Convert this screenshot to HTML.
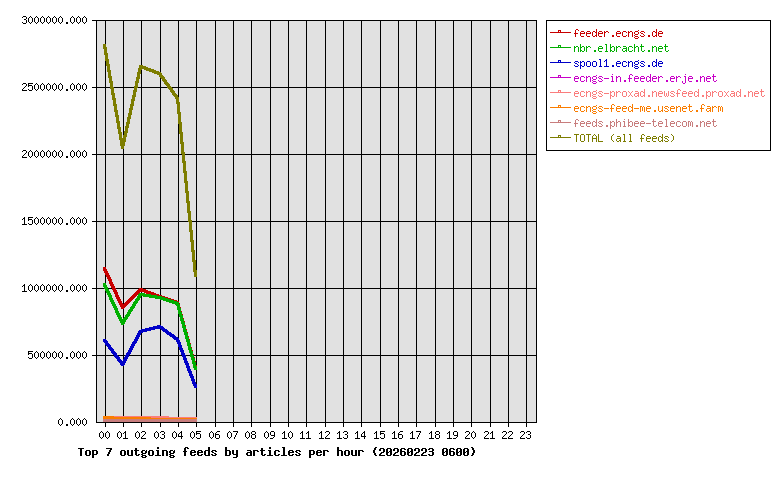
<!DOCTYPE html>
<html lang="en">
<head>
<meta charset="utf-8">
<title>Top 7 outgoing feeds by articles per hour (20260223 0600)</title>
<style>
html,body{margin:0;padding:0;background:#fff;}
body{width:780px;height:480px;overflow:hidden;position:relative;font-family:"Liberation Mono",monospace;}
#chart{position:absolute;left:0;top:0;width:780px;height:480px;background:#fff;overflow:hidden;}
#chart div,#chart span,#chart svg{position:absolute;display:block;margin:0;padding:0;}
.plot{left:96px;top:20px;width:441px;height:403px;background:#e1e1e1;}
.gv{top:0;width:1px;height:403px;background:#000;}
.gh{left:0;width:441px;height:1px;background:#000;}
.series{left:0;top:0;}
.frame{left:96px;top:20px;width:441px;height:403px;box-sizing:border-box;border:1px solid #000;}
.yt{left:92px;width:5px;height:1px;background:#000;}
.xt{top:422px;width:1px;height:5px;background:#000;}
.t{height:13px;line-height:13px;white-space:pre;overflow:hidden;}
.t svg{left:0;top:0;}
.t span{left:0;top:0;color:transparent;font-family:"Liberation Mono",monospace;letter-spacing:0;}
.xl{font-weight:bold;}
.legend{left:546px;top:20px;width:225px;height:131px;box-sizing:border-box;border:1px solid #000;background:#fff;}
.item{left:0;width:223px;height:13px;}
.ln{left:3px;top:6px;width:21px;height:1px;}
.pt{left:11px;top:4px;width:3px;height:3px;box-sizing:border-box;border:1px solid;}
.item .t{left:27px;top:0;}
</style>
</head>
<body>
<div id="chart">
<div class="yaxis">
<div class="t yl" style="left:22px;top:13px;width:66px;font-size:10px;"><svg width="66" height="13" viewBox="0 0 66 13" shape-rendering="crispEdges"><path fill="#000" d="M1 3h3v1h-3zM8 3h1v1h-1zM14 3h1v1h-1zM20 3h1v1h-1zM26 3h1v1h-1zM32 3h1v1h-1zM38 3h1v1h-1zM50 3h1v1h-1zM56 3h1v1h-1zM62 3h1v1h-1zM0 4h1v1h-1zM4 4h1v2h-1zM7 4h1v1h-1zM9 4h1v1h-1zM13 4h1v1h-1zM15 4h1v1h-1zM19 4h1v1h-1zM21 4h1v1h-1zM25 4h1v1h-1zM27 4h1v1h-1zM31 4h1v1h-1zM33 4h1v1h-1zM37 4h1v1h-1zM39 4h1v1h-1zM49 4h1v1h-1zM51 4h1v1h-1zM55 4h1v1h-1zM57 4h1v1h-1zM61 4h1v1h-1zM63 4h1v1h-1zM6 5h1v4h-1zM10 5h1v4h-1zM12 5h1v4h-1zM16 5h1v4h-1zM18 5h1v4h-1zM22 5h1v4h-1zM24 5h1v4h-1zM28 5h1v4h-1zM30 5h1v4h-1zM34 5h1v4h-1zM36 5h1v4h-1zM40 5h1v4h-1zM48 5h1v4h-1zM52 5h1v4h-1zM54 5h1v4h-1zM58 5h1v4h-1zM60 5h1v4h-1zM64 5h1v4h-1zM2 6h2v1h-2zM4 7h1v3h-1zM0 9h1v1h-1zM7 9h1v1h-1zM9 9h1v1h-1zM13 9h1v1h-1zM15 9h1v1h-1zM19 9h1v1h-1zM21 9h1v1h-1zM25 9h1v1h-1zM27 9h1v1h-1zM31 9h1v1h-1zM33 9h1v1h-1zM37 9h1v1h-1zM39 9h1v1h-1zM44 9h2v2h-2zM49 9h1v1h-1zM51 9h1v1h-1zM55 9h1v1h-1zM57 9h1v1h-1zM61 9h1v1h-1zM63 9h1v1h-1zM1 10h3v1h-3zM8 10h1v1h-1zM14 10h1v1h-1zM20 10h1v1h-1zM26 10h1v1h-1zM32 10h1v1h-1zM38 10h1v1h-1zM50 10h1v1h-1zM56 10h1v1h-1zM62 10h1v1h-1z"/></svg><span>3000000.000</span></div>
<div class="yt" style="top:20px"></div>
<div class="t yl" style="left:22px;top:80px;width:66px;font-size:10px;"><svg width="66" height="13" viewBox="0 0 66 13" shape-rendering="crispEdges"><path fill="#000" d="M1 3h3v1h-3zM6 3h5v1h-5zM14 3h1v1h-1zM20 3h1v1h-1zM26 3h1v1h-1zM32 3h1v1h-1zM38 3h1v1h-1zM50 3h1v1h-1zM56 3h1v1h-1zM62 3h1v1h-1zM0 4h1v1h-1zM4 4h1v2h-1zM6 4h1v1h-1zM13 4h1v1h-1zM15 4h1v1h-1zM19 4h1v1h-1zM21 4h1v1h-1zM25 4h1v1h-1zM27 4h1v1h-1zM31 4h1v1h-1zM33 4h1v1h-1zM37 4h1v1h-1zM39 4h1v1h-1zM49 4h1v1h-1zM51 4h1v1h-1zM55 4h1v1h-1zM57 4h1v1h-1zM61 4h1v1h-1zM63 4h1v1h-1zM6 5h4v1h-4zM12 5h1v4h-1zM16 5h1v4h-1zM18 5h1v4h-1zM22 5h1v4h-1zM24 5h1v4h-1zM28 5h1v4h-1zM30 5h1v4h-1zM34 5h1v4h-1zM36 5h1v4h-1zM40 5h1v4h-1zM48 5h1v4h-1zM52 5h1v4h-1zM54 5h1v4h-1zM58 5h1v4h-1zM60 5h1v4h-1zM64 5h1v4h-1zM3 6h1v1h-1zM6 6h1v1h-1zM10 6h1v4h-1zM2 7h1v1h-1zM1 8h1v1h-1zM0 9h1v1h-1zM6 9h1v1h-1zM13 9h1v1h-1zM15 9h1v1h-1zM19 9h1v1h-1zM21 9h1v1h-1zM25 9h1v1h-1zM27 9h1v1h-1zM31 9h1v1h-1zM33 9h1v1h-1zM37 9h1v1h-1zM39 9h1v1h-1zM44 9h2v2h-2zM49 9h1v1h-1zM51 9h1v1h-1zM55 9h1v1h-1zM57 9h1v1h-1zM61 9h1v1h-1zM63 9h1v1h-1zM0 10h5v1h-5zM7 10h3v1h-3zM14 10h1v1h-1zM20 10h1v1h-1zM26 10h1v1h-1zM32 10h1v1h-1zM38 10h1v1h-1zM50 10h1v1h-1zM56 10h1v1h-1zM62 10h1v1h-1z"/></svg><span>2500000.000</span></div>
<div class="yt" style="top:87px"></div>
<div class="t yl" style="left:22px;top:147px;width:66px;font-size:10px;"><svg width="66" height="13" viewBox="0 0 66 13" shape-rendering="crispEdges"><path fill="#000" d="M1 3h3v1h-3zM8 3h1v1h-1zM14 3h1v1h-1zM20 3h1v1h-1zM26 3h1v1h-1zM32 3h1v1h-1zM38 3h1v1h-1zM50 3h1v1h-1zM56 3h1v1h-1zM62 3h1v1h-1zM0 4h1v1h-1zM4 4h1v2h-1zM7 4h1v1h-1zM9 4h1v1h-1zM13 4h1v1h-1zM15 4h1v1h-1zM19 4h1v1h-1zM21 4h1v1h-1zM25 4h1v1h-1zM27 4h1v1h-1zM31 4h1v1h-1zM33 4h1v1h-1zM37 4h1v1h-1zM39 4h1v1h-1zM49 4h1v1h-1zM51 4h1v1h-1zM55 4h1v1h-1zM57 4h1v1h-1zM61 4h1v1h-1zM63 4h1v1h-1zM6 5h1v4h-1zM10 5h1v4h-1zM12 5h1v4h-1zM16 5h1v4h-1zM18 5h1v4h-1zM22 5h1v4h-1zM24 5h1v4h-1zM28 5h1v4h-1zM30 5h1v4h-1zM34 5h1v4h-1zM36 5h1v4h-1zM40 5h1v4h-1zM48 5h1v4h-1zM52 5h1v4h-1zM54 5h1v4h-1zM58 5h1v4h-1zM60 5h1v4h-1zM64 5h1v4h-1zM3 6h1v1h-1zM2 7h1v1h-1zM1 8h1v1h-1zM0 9h1v1h-1zM7 9h1v1h-1zM9 9h1v1h-1zM13 9h1v1h-1zM15 9h1v1h-1zM19 9h1v1h-1zM21 9h1v1h-1zM25 9h1v1h-1zM27 9h1v1h-1zM31 9h1v1h-1zM33 9h1v1h-1zM37 9h1v1h-1zM39 9h1v1h-1zM44 9h2v2h-2zM49 9h1v1h-1zM51 9h1v1h-1zM55 9h1v1h-1zM57 9h1v1h-1zM61 9h1v1h-1zM63 9h1v1h-1zM0 10h5v1h-5zM8 10h1v1h-1zM14 10h1v1h-1zM20 10h1v1h-1zM26 10h1v1h-1zM32 10h1v1h-1zM38 10h1v1h-1zM50 10h1v1h-1zM56 10h1v1h-1zM62 10h1v1h-1z"/></svg><span>2000000.000</span></div>
<div class="yt" style="top:154px"></div>
<div class="t yl" style="left:22px;top:214px;width:66px;font-size:10px;"><svg width="66" height="13" viewBox="0 0 66 13" shape-rendering="crispEdges"><path fill="#000" d="M2 3h1v1h-1zM6 3h5v1h-5zM14 3h1v1h-1zM20 3h1v1h-1zM26 3h1v1h-1zM32 3h1v1h-1zM38 3h1v1h-1zM50 3h1v1h-1zM56 3h1v1h-1zM62 3h1v1h-1zM1 4h2v1h-2zM6 4h1v1h-1zM13 4h1v1h-1zM15 4h1v1h-1zM19 4h1v1h-1zM21 4h1v1h-1zM25 4h1v1h-1zM27 4h1v1h-1zM31 4h1v1h-1zM33 4h1v1h-1zM37 4h1v1h-1zM39 4h1v1h-1zM49 4h1v1h-1zM51 4h1v1h-1zM55 4h1v1h-1zM57 4h1v1h-1zM61 4h1v1h-1zM63 4h1v1h-1zM0 5h1v1h-1zM2 5h1v5h-1zM6 5h4v1h-4zM12 5h1v4h-1zM16 5h1v4h-1zM18 5h1v4h-1zM22 5h1v4h-1zM24 5h1v4h-1zM28 5h1v4h-1zM30 5h1v4h-1zM34 5h1v4h-1zM36 5h1v4h-1zM40 5h1v4h-1zM48 5h1v4h-1zM52 5h1v4h-1zM54 5h1v4h-1zM58 5h1v4h-1zM60 5h1v4h-1zM64 5h1v4h-1zM6 6h1v1h-1zM10 6h1v4h-1zM6 9h1v1h-1zM13 9h1v1h-1zM15 9h1v1h-1zM19 9h1v1h-1zM21 9h1v1h-1zM25 9h1v1h-1zM27 9h1v1h-1zM31 9h1v1h-1zM33 9h1v1h-1zM37 9h1v1h-1zM39 9h1v1h-1zM44 9h2v2h-2zM49 9h1v1h-1zM51 9h1v1h-1zM55 9h1v1h-1zM57 9h1v1h-1zM61 9h1v1h-1zM63 9h1v1h-1zM0 10h5v1h-5zM7 10h3v1h-3zM14 10h1v1h-1zM20 10h1v1h-1zM26 10h1v1h-1zM32 10h1v1h-1zM38 10h1v1h-1zM50 10h1v1h-1zM56 10h1v1h-1zM62 10h1v1h-1z"/></svg><span>1500000.000</span></div>
<div class="yt" style="top:221px"></div>
<div class="t yl" style="left:22px;top:281px;width:66px;font-size:10px;"><svg width="66" height="13" viewBox="0 0 66 13" shape-rendering="crispEdges"><path fill="#000" d="M2 3h1v1h-1zM8 3h1v1h-1zM14 3h1v1h-1zM20 3h1v1h-1zM26 3h1v1h-1zM32 3h1v1h-1zM38 3h1v1h-1zM50 3h1v1h-1zM56 3h1v1h-1zM62 3h1v1h-1zM1 4h2v1h-2zM7 4h1v1h-1zM9 4h1v1h-1zM13 4h1v1h-1zM15 4h1v1h-1zM19 4h1v1h-1zM21 4h1v1h-1zM25 4h1v1h-1zM27 4h1v1h-1zM31 4h1v1h-1zM33 4h1v1h-1zM37 4h1v1h-1zM39 4h1v1h-1zM49 4h1v1h-1zM51 4h1v1h-1zM55 4h1v1h-1zM57 4h1v1h-1zM61 4h1v1h-1zM63 4h1v1h-1zM0 5h1v1h-1zM2 5h1v5h-1zM6 5h1v4h-1zM10 5h1v4h-1zM12 5h1v4h-1zM16 5h1v4h-1zM18 5h1v4h-1zM22 5h1v4h-1zM24 5h1v4h-1zM28 5h1v4h-1zM30 5h1v4h-1zM34 5h1v4h-1zM36 5h1v4h-1zM40 5h1v4h-1zM48 5h1v4h-1zM52 5h1v4h-1zM54 5h1v4h-1zM58 5h1v4h-1zM60 5h1v4h-1zM64 5h1v4h-1zM7 9h1v1h-1zM9 9h1v1h-1zM13 9h1v1h-1zM15 9h1v1h-1zM19 9h1v1h-1zM21 9h1v1h-1zM25 9h1v1h-1zM27 9h1v1h-1zM31 9h1v1h-1zM33 9h1v1h-1zM37 9h1v1h-1zM39 9h1v1h-1zM44 9h2v2h-2zM49 9h1v1h-1zM51 9h1v1h-1zM55 9h1v1h-1zM57 9h1v1h-1zM61 9h1v1h-1zM63 9h1v1h-1zM0 10h5v1h-5zM8 10h1v1h-1zM14 10h1v1h-1zM20 10h1v1h-1zM26 10h1v1h-1zM32 10h1v1h-1zM38 10h1v1h-1zM50 10h1v1h-1zM56 10h1v1h-1zM62 10h1v1h-1z"/></svg><span>1000000.000</span></div>
<div class="yt" style="top:288px"></div>
<div class="t yl" style="left:28px;top:348px;width:60px;font-size:10px;"><svg width="60" height="13" viewBox="0 0 60 13" shape-rendering="crispEdges"><path fill="#000" d="M0 3h5v1h-5zM8 3h1v1h-1zM14 3h1v1h-1zM20 3h1v1h-1zM26 3h1v1h-1zM32 3h1v1h-1zM44 3h1v1h-1zM50 3h1v1h-1zM56 3h1v1h-1zM0 4h1v1h-1zM7 4h1v1h-1zM9 4h1v1h-1zM13 4h1v1h-1zM15 4h1v1h-1zM19 4h1v1h-1zM21 4h1v1h-1zM25 4h1v1h-1zM27 4h1v1h-1zM31 4h1v1h-1zM33 4h1v1h-1zM43 4h1v1h-1zM45 4h1v1h-1zM49 4h1v1h-1zM51 4h1v1h-1zM55 4h1v1h-1zM57 4h1v1h-1zM0 5h4v1h-4zM6 5h1v4h-1zM10 5h1v4h-1zM12 5h1v4h-1zM16 5h1v4h-1zM18 5h1v4h-1zM22 5h1v4h-1zM24 5h1v4h-1zM28 5h1v4h-1zM30 5h1v4h-1zM34 5h1v4h-1zM42 5h1v4h-1zM46 5h1v4h-1zM48 5h1v4h-1zM52 5h1v4h-1zM54 5h1v4h-1zM58 5h1v4h-1zM0 6h1v1h-1zM4 6h1v4h-1zM0 9h1v1h-1zM7 9h1v1h-1zM9 9h1v1h-1zM13 9h1v1h-1zM15 9h1v1h-1zM19 9h1v1h-1zM21 9h1v1h-1zM25 9h1v1h-1zM27 9h1v1h-1zM31 9h1v1h-1zM33 9h1v1h-1zM38 9h2v2h-2zM43 9h1v1h-1zM45 9h1v1h-1zM49 9h1v1h-1zM51 9h1v1h-1zM55 9h1v1h-1zM57 9h1v1h-1zM1 10h3v1h-3zM8 10h1v1h-1zM14 10h1v1h-1zM20 10h1v1h-1zM26 10h1v1h-1zM32 10h1v1h-1zM44 10h1v1h-1zM50 10h1v1h-1zM56 10h1v1h-1z"/></svg><span>500000.000</span></div>
<div class="yt" style="top:355px"></div>
<div class="t yl" style="left:58px;top:415px;width:30px;font-size:10px;"><svg width="30" height="13" viewBox="0 0 30 13" shape-rendering="crispEdges"><path fill="#000" d="M2 3h1v1h-1zM14 3h1v1h-1zM20 3h1v1h-1zM26 3h1v1h-1zM1 4h1v1h-1zM3 4h1v1h-1zM13 4h1v1h-1zM15 4h1v1h-1zM19 4h1v1h-1zM21 4h1v1h-1zM25 4h1v1h-1zM27 4h1v1h-1zM0 5h1v4h-1zM4 5h1v4h-1zM12 5h1v4h-1zM16 5h1v4h-1zM18 5h1v4h-1zM22 5h1v4h-1zM24 5h1v4h-1zM28 5h1v4h-1zM1 9h1v1h-1zM3 9h1v1h-1zM8 9h2v2h-2zM13 9h1v1h-1zM15 9h1v1h-1zM19 9h1v1h-1zM21 9h1v1h-1zM25 9h1v1h-1zM27 9h1v1h-1zM2 10h1v1h-1zM14 10h1v1h-1zM20 10h1v1h-1zM26 10h1v1h-1z"/></svg><span>0.000</span></div>
</div>
<div class="plot">
<div class="gv" style="left:9px"></div><div class="gv" style="left:27px"></div><div class="gv" style="left:45px"></div><div class="gv" style="left:64px"></div><div class="gv" style="left:82px"></div><div class="gv" style="left:100px"></div><div class="gv" style="left:119px"></div><div class="gv" style="left:137px"></div><div class="gv" style="left:155px"></div><div class="gv" style="left:174px"></div><div class="gv" style="left:192px"></div><div class="gv" style="left:210px"></div><div class="gv" style="left:229px"></div><div class="gv" style="left:247px"></div><div class="gv" style="left:265px"></div><div class="gv" style="left:284px"></div><div class="gv" style="left:302px"></div><div class="gv" style="left:320px"></div><div class="gv" style="left:339px"></div><div class="gv" style="left:357px"></div><div class="gv" style="left:375px"></div><div class="gv" style="left:394px"></div><div class="gv" style="left:412px"></div><div class="gv" style="left:430px"></div>
<div class="gh" style="top:0px"></div><div class="gh" style="top:67px"></div><div class="gh" style="top:134px"></div><div class="gh" style="top:201px"></div><div class="gh" style="top:268px"></div><div class="gh" style="top:335px"></div><div class="gh" style="top:402px"></div>
</div>
<svg class="series" width="780" height="480" viewBox="0 0 780 480" shape-rendering="crispEdges">
<path fill="#c80000" d="M103 267h3v2h-3zM103 269h4v2h-4zM104 271h4v2h-4zM105 273h4v2h-4zM106 275h4v2h-4zM107 277h4v2h-4zM108 279h4v2h-4zM109 281h3v1h-3zM109 282h4v2h-4zM110 284h4v2h-4zM111 286h4v2h-4zM112 288h4v2h-4zM139 288h4v1h-4zM138 289h8v1h-8zM113 290h4v2h-4zM137 290h11v1h-11zM136 291h15v1h-15zM114 292h4v2h-4zM135 292h5v1h-5zM144 292h10v1h-10zM134 293h5v1h-5zM146 293h10v1h-10zM115 294h3v1h-3zM133 294h5v1h-5zM149 294h10v1h-10zM115 295h4v2h-4zM132 295h5v1h-5zM152 295h10v1h-10zM131 296h5v1h-5zM154 296h11v1h-11zM116 297h4v2h-4zM130 297h5v1h-5zM157 297h11v1h-11zM129 298h5v1h-5zM160 298h11v1h-11zM117 299h4v2h-4zM128 299h5v1h-5zM163 299h11v1h-11zM127 300h5v1h-5zM166 300h11v1h-11zM118 301h4v2h-4zM126 301h5v1h-5zM169 301h10v1h-10zM125 302h5v1h-5zM172 302h7v1h-7zM119 303h4v1h-4zM124 303h5v1h-5zM175 303h5v1h-5zM119 304h9v1h-9zM176 304h4v1h-4zM120 305h7v1h-7zM177 305h3v2h-3zM120 306h6v1h-6zM121 307h4v1h-4zM177 307h4v2h-4zM121 308h3v1h-3zM178 309h3v2h-3zM178 311h4v2h-4zM179 313h3v1h-3zM179 314h4v2h-4zM180 316h3v2h-3zM180 318h4v2h-4zM181 320h3v1h-3zM181 321h4v2h-4zM182 323h3v2h-3zM182 325h4v2h-4zM183 327h3v2h-3zM183 329h4v2h-4zM184 331h3v1h-3zM184 332h4v2h-4zM185 334h3v2h-3zM185 336h4v2h-4zM186 338h3v1h-3zM186 339h4v2h-4zM187 341h3v2h-3zM187 343h4v2h-4zM188 345h3v2h-3zM188 347h4v2h-4zM189 349h3v1h-3zM189 350h4v2h-4zM190 352h3v2h-3zM190 354h4v2h-4zM191 356h3v1h-3zM191 357h4v2h-4zM192 359h3v2h-3zM192 361h4v2h-4zM193 363h3v2h-3zM193 365h4v2h-4zM194 367h3v2h-3z"><title>feeder.ecngs.de</title></path>
<path fill="#00af00" d="M103 283h3v2h-3zM103 285h4v2h-4zM104 287h4v2h-4zM105 289h4v2h-4zM106 291h4v2h-4zM107 293h4v2h-4zM139 293h6v1h-6zM138 294h13v1h-13zM108 295h4v2h-4zM138 295h19v1h-19zM137 296h4v2h-4zM143 296h19v1h-19zM109 297h3v1h-3zM149 297h16v1h-16zM109 298h4v2h-4zM136 298h4v1h-4zM155 298h13v1h-13zM135 299h5v1h-5zM160 299h11v1h-11zM110 300h4v2h-4zM135 300h4v1h-4zM163 300h11v1h-11zM134 301h4v1h-4zM166 301h11v1h-11zM111 302h4v2h-4zM133 302h5v1h-5zM169 302h10v1h-10zM133 303h4v1h-4zM172 303h7v1h-7zM112 304h4v2h-4zM132 304h4v2h-4zM175 304h5v1h-5zM176 305h4v1h-4zM113 306h4v2h-4zM131 306h4v1h-4zM177 306h3v2h-3zM130 307h5v1h-5zM114 308h4v2h-4zM130 308h4v1h-4zM177 308h4v2h-4zM129 309h4v1h-4zM115 310h3v1h-3zM128 310h5v1h-5zM178 310h3v2h-3zM115 311h4v2h-4zM128 311h4v1h-4zM127 312h4v2h-4zM178 312h4v2h-4zM116 313h4v2h-4zM126 314h4v1h-4zM179 314h3v1h-3zM117 315h4v2h-4zM125 315h5v1h-5zM179 315h4v2h-4zM125 316h4v1h-4zM118 317h4v2h-4zM124 317h4v1h-4zM180 317h3v2h-3zM123 318h5v1h-5zM119 319h8v1h-8zM180 319h4v2h-4zM119 320h7v1h-7zM120 321h6v1h-6zM181 321h3v1h-3zM120 322h5v1h-5zM181 322h4v2h-4zM121 323h4v1h-4zM121 324h3v1h-3zM182 324h3v2h-3zM182 326h4v2h-4zM183 328h3v2h-3zM183 330h4v2h-4zM184 332h3v1h-3zM184 333h4v2h-4zM185 335h3v2h-3zM185 337h4v2h-4zM186 339h3v1h-3zM186 340h4v2h-4zM187 342h3v2h-3zM187 344h4v2h-4zM188 346h3v2h-3zM188 348h4v2h-4zM189 350h3v1h-3zM189 351h4v2h-4zM190 353h3v2h-3zM190 355h4v2h-4zM191 357h3v1h-3zM191 358h4v2h-4zM192 360h3v2h-3zM192 362h4v2h-4zM193 364h3v2h-3zM193 366h4v2h-4zM194 368h3v2h-3z"><title>nbr.elbracht.net</title></path>
<path fill="#0000c8" d="M157 325h4v1h-4zM153 326h10v1h-10zM149 327h15v1h-15zM145 328h20v1h-20zM141 329h14v1h-14zM161 329h6v1h-6zM139 330h12v1h-12zM162 330h6v1h-6zM138 331h9v1h-9zM163 331h6v1h-6zM138 332h5v1h-5zM165 332h6v1h-6zM137 333h4v2h-4zM166 333h6v1h-6zM167 334h7v1h-7zM136 335h4v2h-4zM169 335h6v1h-6zM170 336h6v1h-6zM135 337h4v2h-4zM172 337h6v1h-6zM173 338h6v1h-6zM103 339h3v1h-3zM134 339h4v2h-4zM174 339h5v1h-5zM103 340h4v1h-4zM176 340h4v2h-4zM103 341h5v1h-5zM133 341h4v1h-4zM104 342h4v1h-4zM132 342h5v1h-5zM177 342h4v2h-4zM105 343h4v1h-4zM132 343h4v1h-4zM105 344h5v1h-5zM131 344h4v2h-4zM178 344h3v1h-3zM106 345h5v1h-5zM178 345h4v2h-4zM107 346h4v1h-4zM130 346h4v2h-4zM108 347h4v1h-4zM179 347h3v1h-3zM108 348h5v1h-5zM129 348h4v2h-4zM179 348h4v2h-4zM109 349h5v1h-5zM110 350h4v1h-4zM128 350h4v2h-4zM180 350h4v2h-4zM111 351h4v1h-4zM111 352h5v1h-5zM127 352h4v1h-4zM181 352h3v1h-3zM112 353h5v1h-5zM126 353h5v1h-5zM181 353h4v2h-4zM113 354h4v1h-4zM126 354h4v1h-4zM114 355h4v1h-4zM125 355h4v2h-4zM182 355h4v2h-4zM114 356h5v1h-5zM115 357h5v1h-5zM124 357h4v2h-4zM183 357h3v1h-3zM116 358h4v1h-4zM183 358h4v2h-4zM117 359h4v1h-4zM123 359h4v2h-4zM117 360h5v1h-5zM184 360h3v1h-3zM118 361h8v1h-8zM184 361h4v2h-4zM119 362h7v1h-7zM120 363h5v2h-5zM185 363h4v2h-4zM121 365h3v1h-3zM186 365h3v1h-3zM186 366h4v2h-4zM187 368h3v1h-3zM187 369h4v2h-4zM188 371h4v2h-4zM189 373h3v1h-3zM189 374h4v2h-4zM190 376h4v2h-4zM191 378h3v1h-3zM191 379h4v2h-4zM192 381h3v1h-3zM192 382h4v2h-4zM193 384h4v2h-4zM194 386h3v2h-3z"><title>spool1.ecngs.de</title></path>
<path fill="#c800c8" d="M103 418h94v3h-94z"><title>ecngs-in.feeder.erje.net</title></path>
<path fill="#fa7d7d" d="M103 416h66v1h-66zM103 417h94v2h-94zM167 419h30v1h-30z"><title>ecngs-proxad.newsfeed.proxad.net</title></path>
<path fill="#fa7d00" d="M103 416h11v1h-11zM103 417h48v1h-48zM103 418h94v1h-94zM112 419h85v1h-85zM149 420h48v1h-48z"><title>ecngs-feed-me.usenet.farm</title></path>
<path fill="#c87d7d" d="M103 419h94v3h-94z"><title>feeds.phibee-telecom.net</title></path>
<path fill="#7d7d00" d="M103 44h3v3h-3zM103 47h4v2h-4zM104 49h3v4h-3zM104 53h4v2h-4zM105 55h3v4h-3zM105 59h4v2h-4zM106 61h3v3h-3zM106 64h4v2h-4zM139 65h4v1h-4zM107 66h3v4h-3zM139 66h7v1h-7zM139 67h9v1h-9zM138 68h13v1h-13zM138 69h4v1h-4zM144 69h10v1h-10zM107 70h4v2h-4zM138 70h3v2h-3zM146 70h10v1h-10zM149 71h10v1h-10zM108 72h3v4h-3zM137 72h4v2h-4zM152 72h9v1h-9zM154 73h8v1h-8zM137 74h3v3h-3zM157 74h5v1h-5zM159 75h4v1h-4zM108 76h4v2h-4zM159 76h5v1h-5zM136 77h4v2h-4zM160 77h5v1h-5zM109 78h3v3h-3zM161 78h4v1h-4zM136 79h3v2h-3zM162 79h4v1h-4zM162 80h5v1h-5zM109 81h4v2h-4zM135 81h4v2h-4zM163 81h4v1h-4zM164 82h4v1h-4zM110 83h3v4h-3zM135 83h3v3h-3zM164 83h5v1h-5zM165 84h5v1h-5zM166 85h4v1h-4zM134 86h4v2h-4zM167 86h4v1h-4zM110 87h4v2h-4zM167 87h5v1h-5zM134 88h3v2h-3zM168 88h5v1h-5zM111 89h3v4h-3zM169 89h4v1h-4zM133 90h4v2h-4zM170 90h4v1h-4zM170 91h5v1h-5zM133 92h3v3h-3zM171 92h4v1h-4zM111 93h4v2h-4zM172 93h4v1h-4zM172 94h5v1h-5zM112 95h3v3h-3zM132 95h4v2h-4zM173 95h5v1h-5zM174 96h4v1h-4zM132 97h3v2h-3zM175 97h4v2h-4zM112 98h4v2h-4zM131 99h4v2h-4zM176 99h3v3h-3zM113 100h3v4h-3zM131 101h3v3h-3zM176 102h4v2h-4zM113 104h4v2h-4zM130 104h4v2h-4zM177 104h3v8h-3zM114 106h3v4h-3zM130 106h3v2h-3zM129 108h4v2h-4zM114 110h4v2h-4zM129 110h3v3h-3zM115 112h3v3h-3zM177 112h4v2h-4zM128 113h4v2h-4zM178 114h3v8h-3zM115 115h4v2h-4zM128 115h3v2h-3zM116 117h3v4h-3zM127 117h4v2h-4zM127 119h3v3h-3zM116 121h4v2h-4zM126 122h4v2h-4zM178 122h4v2h-4zM117 123h3v4h-3zM126 124h3v2h-3zM179 124h3v8h-3zM125 126h4v2h-4zM117 127h4v2h-4zM125 128h3v3h-3zM118 129h3v3h-3zM124 131h4v2h-4zM118 132h4v2h-4zM179 132h4v2h-4zM124 133h3v2h-3zM119 134h3v4h-3zM180 134h3v8h-3zM123 135h4v2h-4zM123 137h3v1h-3zM119 138h7v2h-7zM120 140h6v2h-6zM120 142h5v4h-5zM180 142h4v2h-4zM181 144h3v8h-3zM121 146h3v3h-3zM181 152h4v2h-4zM182 154h3v7h-3zM182 161h4v2h-4zM183 163h3v8h-3zM183 171h4v2h-4zM184 173h3v8h-3zM184 181h4v2h-4zM185 183h3v8h-3zM185 191h4v2h-4zM186 193h3v8h-3zM186 201h4v2h-4zM187 203h3v8h-3zM187 211h4v2h-4zM188 213h3v7h-3zM188 220h4v2h-4zM189 222h3v8h-3zM189 230h4v2h-4zM190 232h3v8h-3zM190 240h4v2h-4zM191 242h3v8h-3zM191 250h4v2h-4zM192 252h3v8h-3zM192 260h4v2h-4zM193 262h3v8h-3zM193 270h4v2h-4zM194 272h3v5h-3z"><title>TOTAL (all feeds)</title></path>
</svg>
<div class="frame"></div>
<div class="xaxis">
<div class="xt" style="left:105px"></div><div class="t xk" style="left:99px;top:428px;width:12px;font-size:10px;"><svg width="12" height="13" viewBox="0 0 12 13" shape-rendering="crispEdges"><path fill="#000" d="M2 3h1v1h-1zM8 3h1v1h-1zM1 4h1v1h-1zM3 4h1v1h-1zM7 4h1v1h-1zM9 4h1v1h-1zM0 5h1v4h-1zM4 5h1v4h-1zM6 5h1v4h-1zM10 5h1v4h-1zM1 9h1v1h-1zM3 9h1v1h-1zM7 9h1v1h-1zM9 9h1v1h-1zM2 10h1v1h-1zM8 10h1v1h-1z"/></svg><span>00</span></div>
<div class="xt" style="left:123px"></div><div class="t xk" style="left:117px;top:428px;width:12px;font-size:10px;"><svg width="12" height="13" viewBox="0 0 12 13" shape-rendering="crispEdges"><path fill="#000" d="M2 3h1v1h-1zM8 3h1v1h-1zM1 4h1v1h-1zM3 4h1v1h-1zM7 4h2v1h-2zM0 5h1v4h-1zM4 5h1v4h-1zM6 5h1v1h-1zM8 5h1v5h-1zM1 9h1v1h-1zM3 9h1v1h-1zM2 10h1v1h-1zM6 10h5v1h-5z"/></svg><span>01</span></div>
<div class="xt" style="left:141px"></div><div class="t xk" style="left:135px;top:428px;width:12px;font-size:10px;"><svg width="12" height="13" viewBox="0 0 12 13" shape-rendering="crispEdges"><path fill="#000" d="M2 3h1v1h-1zM7 3h3v1h-3zM1 4h1v1h-1zM3 4h1v1h-1zM6 4h1v1h-1zM10 4h1v2h-1zM0 5h1v4h-1zM4 5h1v4h-1zM9 6h1v1h-1zM8 7h1v1h-1zM7 8h1v1h-1zM1 9h1v1h-1zM3 9h1v1h-1zM6 9h1v1h-1zM2 10h1v1h-1zM6 10h5v1h-5z"/></svg><span>02</span></div>
<div class="xt" style="left:160px"></div><div class="t xk" style="left:154px;top:428px;width:12px;font-size:10px;"><svg width="12" height="13" viewBox="0 0 12 13" shape-rendering="crispEdges"><path fill="#000" d="M2 3h1v1h-1zM7 3h3v1h-3zM1 4h1v1h-1zM3 4h1v1h-1zM6 4h1v1h-1zM10 4h1v2h-1zM0 5h1v4h-1zM4 5h1v4h-1zM8 6h2v1h-2zM10 7h1v3h-1zM1 9h1v1h-1zM3 9h1v1h-1zM6 9h1v1h-1zM2 10h1v1h-1zM7 10h3v1h-3z"/></svg><span>03</span></div>
<div class="xt" style="left:178px"></div><div class="t xk" style="left:172px;top:428px;width:12px;font-size:10px;"><svg width="12" height="13" viewBox="0 0 12 13" shape-rendering="crispEdges"><path fill="#000" d="M2 3h1v1h-1zM9 3h1v1h-1zM1 4h1v1h-1zM3 4h1v1h-1zM8 4h2v1h-2zM0 5h1v4h-1zM4 5h1v4h-1zM7 5h1v1h-1zM9 5h1v3h-1zM6 6h1v2h-1zM6 8h5v1h-5zM1 9h1v1h-1zM3 9h1v1h-1zM9 9h1v2h-1zM2 10h1v1h-1z"/></svg><span>04</span></div>
<div class="xt" style="left:196px"></div><div class="t xk" style="left:190px;top:428px;width:12px;font-size:10px;"><svg width="12" height="13" viewBox="0 0 12 13" shape-rendering="crispEdges"><path fill="#000" d="M2 3h1v1h-1zM6 3h5v1h-5zM1 4h1v1h-1zM3 4h1v1h-1zM6 4h1v1h-1zM0 5h1v4h-1zM4 5h1v4h-1zM6 5h4v1h-4zM6 6h1v1h-1zM10 6h1v4h-1zM1 9h1v1h-1zM3 9h1v1h-1zM6 9h1v1h-1zM2 10h1v1h-1zM7 10h3v1h-3z"/></svg><span>05</span></div>
<div class="xt" style="left:215px"></div><div class="t xk" style="left:209px;top:428px;width:12px;font-size:10px;"><svg width="12" height="13" viewBox="0 0 12 13" shape-rendering="crispEdges"><path fill="#000" d="M2 3h1v1h-1zM8 3h3v1h-3zM1 4h1v1h-1zM3 4h1v1h-1zM7 4h1v1h-1zM0 5h1v4h-1zM4 5h1v4h-1zM6 5h1v1h-1zM6 6h4v1h-4zM6 7h1v3h-1zM10 7h1v3h-1zM1 9h1v1h-1zM3 9h1v1h-1zM2 10h1v1h-1zM7 10h3v1h-3z"/></svg><span>06</span></div>
<div class="xt" style="left:233px"></div><div class="t xk" style="left:227px;top:428px;width:12px;font-size:10px;"><svg width="12" height="13" viewBox="0 0 12 13" shape-rendering="crispEdges"><path fill="#000" d="M2 3h1v1h-1zM6 3h5v1h-5zM1 4h1v1h-1zM3 4h1v1h-1zM10 4h1v1h-1zM0 5h1v4h-1zM4 5h1v4h-1zM9 5h1v2h-1zM8 7h1v2h-1zM1 9h1v1h-1zM3 9h1v1h-1zM7 9h1v2h-1zM2 10h1v1h-1z"/></svg><span>07</span></div>
<div class="xt" style="left:251px"></div><div class="t xk" style="left:245px;top:428px;width:12px;font-size:10px;"><svg width="12" height="13" viewBox="0 0 12 13" shape-rendering="crispEdges"><path fill="#000" d="M2 3h1v1h-1zM7 3h3v1h-3zM1 4h1v1h-1zM3 4h1v1h-1zM6 4h1v2h-1zM10 4h1v2h-1zM0 5h1v4h-1zM4 5h1v4h-1zM7 6h3v1h-3zM6 7h1v3h-1zM10 7h1v3h-1zM1 9h1v1h-1zM3 9h1v1h-1zM2 10h1v1h-1zM7 10h3v1h-3z"/></svg><span>08</span></div>
<div class="xt" style="left:270px"></div><div class="t xk" style="left:264px;top:428px;width:12px;font-size:10px;"><svg width="12" height="13" viewBox="0 0 12 13" shape-rendering="crispEdges"><path fill="#000" d="M2 3h1v1h-1zM7 3h3v1h-3zM1 4h1v1h-1zM3 4h1v1h-1zM6 4h1v3h-1zM10 4h1v3h-1zM0 5h1v4h-1zM4 5h1v4h-1zM7 7h4v1h-4zM10 8h1v1h-1zM1 9h1v1h-1zM3 9h1v1h-1zM9 9h1v1h-1zM2 10h1v1h-1zM6 10h3v1h-3z"/></svg><span>09</span></div>
<div class="xt" style="left:288px"></div><div class="t xk" style="left:282px;top:428px;width:12px;font-size:10px;"><svg width="12" height="13" viewBox="0 0 12 13" shape-rendering="crispEdges"><path fill="#000" d="M2 3h1v1h-1zM8 3h1v1h-1zM1 4h2v1h-2zM7 4h1v1h-1zM9 4h1v1h-1zM0 5h1v1h-1zM2 5h1v5h-1zM6 5h1v4h-1zM10 5h1v4h-1zM7 9h1v1h-1zM9 9h1v1h-1zM0 10h5v1h-5zM8 10h1v1h-1z"/></svg><span>10</span></div>
<div class="xt" style="left:306px"></div><div class="t xk" style="left:300px;top:428px;width:12px;font-size:10px;"><svg width="12" height="13" viewBox="0 0 12 13" shape-rendering="crispEdges"><path fill="#000" d="M2 3h1v1h-1zM8 3h1v1h-1zM1 4h2v1h-2zM7 4h2v1h-2zM0 5h1v1h-1zM2 5h1v5h-1zM6 5h1v1h-1zM8 5h1v5h-1zM0 10h5v1h-5zM6 10h5v1h-5z"/></svg><span>11</span></div>
<div class="xt" style="left:325px"></div><div class="t xk" style="left:319px;top:428px;width:12px;font-size:10px;"><svg width="12" height="13" viewBox="0 0 12 13" shape-rendering="crispEdges"><path fill="#000" d="M2 3h1v1h-1zM7 3h3v1h-3zM1 4h2v1h-2zM6 4h1v1h-1zM10 4h1v2h-1zM0 5h1v1h-1zM2 5h1v5h-1zM9 6h1v1h-1zM8 7h1v1h-1zM7 8h1v1h-1zM6 9h1v1h-1zM0 10h5v1h-5zM6 10h5v1h-5z"/></svg><span>12</span></div>
<div class="xt" style="left:343px"></div><div class="t xk" style="left:337px;top:428px;width:12px;font-size:10px;"><svg width="12" height="13" viewBox="0 0 12 13" shape-rendering="crispEdges"><path fill="#000" d="M2 3h1v1h-1zM7 3h3v1h-3zM1 4h2v1h-2zM6 4h1v1h-1zM10 4h1v2h-1zM0 5h1v1h-1zM2 5h1v5h-1zM8 6h2v1h-2zM10 7h1v3h-1zM6 9h1v1h-1zM0 10h5v1h-5zM7 10h3v1h-3z"/></svg><span>13</span></div>
<div class="xt" style="left:361px"></div><div class="t xk" style="left:355px;top:428px;width:12px;font-size:10px;"><svg width="12" height="13" viewBox="0 0 12 13" shape-rendering="crispEdges"><path fill="#000" d="M2 3h1v1h-1zM9 3h1v1h-1zM1 4h2v1h-2zM8 4h2v1h-2zM0 5h1v1h-1zM2 5h1v5h-1zM7 5h1v1h-1zM9 5h1v3h-1zM6 6h1v2h-1zM6 8h5v1h-5zM9 9h1v2h-1zM0 10h5v1h-5z"/></svg><span>14</span></div>
<div class="xt" style="left:380px"></div><div class="t xk" style="left:374px;top:428px;width:12px;font-size:10px;"><svg width="12" height="13" viewBox="0 0 12 13" shape-rendering="crispEdges"><path fill="#000" d="M2 3h1v1h-1zM6 3h5v1h-5zM1 4h2v1h-2zM6 4h1v1h-1zM0 5h1v1h-1zM2 5h1v5h-1zM6 5h4v1h-4zM6 6h1v1h-1zM10 6h1v4h-1zM6 9h1v1h-1zM0 10h5v1h-5zM7 10h3v1h-3z"/></svg><span>15</span></div>
<div class="xt" style="left:398px"></div><div class="t xk" style="left:392px;top:428px;width:12px;font-size:10px;"><svg width="12" height="13" viewBox="0 0 12 13" shape-rendering="crispEdges"><path fill="#000" d="M2 3h1v1h-1zM8 3h3v1h-3zM1 4h2v1h-2zM7 4h1v1h-1zM0 5h1v1h-1zM2 5h1v5h-1zM6 5h1v1h-1zM6 6h4v1h-4zM6 7h1v3h-1zM10 7h1v3h-1zM0 10h5v1h-5zM7 10h3v1h-3z"/></svg><span>16</span></div>
<div class="xt" style="left:416px"></div><div class="t xk" style="left:410px;top:428px;width:12px;font-size:10px;"><svg width="12" height="13" viewBox="0 0 12 13" shape-rendering="crispEdges"><path fill="#000" d="M2 3h1v1h-1zM6 3h5v1h-5zM1 4h2v1h-2zM10 4h1v1h-1zM0 5h1v1h-1zM2 5h1v5h-1zM9 5h1v2h-1zM8 7h1v2h-1zM7 9h1v2h-1zM0 10h5v1h-5z"/></svg><span>17</span></div>
<div class="xt" style="left:435px"></div><div class="t xk" style="left:429px;top:428px;width:12px;font-size:10px;"><svg width="12" height="13" viewBox="0 0 12 13" shape-rendering="crispEdges"><path fill="#000" d="M2 3h1v1h-1zM7 3h3v1h-3zM1 4h2v1h-2zM6 4h1v2h-1zM10 4h1v2h-1zM0 5h1v1h-1zM2 5h1v5h-1zM7 6h3v1h-3zM6 7h1v3h-1zM10 7h1v3h-1zM0 10h5v1h-5zM7 10h3v1h-3z"/></svg><span>18</span></div>
<div class="xt" style="left:453px"></div><div class="t xk" style="left:447px;top:428px;width:12px;font-size:10px;"><svg width="12" height="13" viewBox="0 0 12 13" shape-rendering="crispEdges"><path fill="#000" d="M2 3h1v1h-1zM7 3h3v1h-3zM1 4h2v1h-2zM6 4h1v3h-1zM10 4h1v3h-1zM0 5h1v1h-1zM2 5h1v5h-1zM7 7h4v1h-4zM10 8h1v1h-1zM9 9h1v1h-1zM0 10h5v1h-5zM6 10h3v1h-3z"/></svg><span>19</span></div>
<div class="xt" style="left:471px"></div><div class="t xk" style="left:465px;top:428px;width:12px;font-size:10px;"><svg width="12" height="13" viewBox="0 0 12 13" shape-rendering="crispEdges"><path fill="#000" d="M1 3h3v1h-3zM8 3h1v1h-1zM0 4h1v1h-1zM4 4h1v2h-1zM7 4h1v1h-1zM9 4h1v1h-1zM6 5h1v4h-1zM10 5h1v4h-1zM3 6h1v1h-1zM2 7h1v1h-1zM1 8h1v1h-1zM0 9h1v1h-1zM7 9h1v1h-1zM9 9h1v1h-1zM0 10h5v1h-5zM8 10h1v1h-1z"/></svg><span>20</span></div>
<div class="xt" style="left:490px"></div><div class="t xk" style="left:484px;top:428px;width:12px;font-size:10px;"><svg width="12" height="13" viewBox="0 0 12 13" shape-rendering="crispEdges"><path fill="#000" d="M1 3h3v1h-3zM8 3h1v1h-1zM0 4h1v1h-1zM4 4h1v2h-1zM7 4h2v1h-2zM6 5h1v1h-1zM8 5h1v5h-1zM3 6h1v1h-1zM2 7h1v1h-1zM1 8h1v1h-1zM0 9h1v1h-1zM0 10h5v1h-5zM6 10h5v1h-5z"/></svg><span>21</span></div>
<div class="xt" style="left:508px"></div><div class="t xk" style="left:502px;top:428px;width:12px;font-size:10px;"><svg width="12" height="13" viewBox="0 0 12 13" shape-rendering="crispEdges"><path fill="#000" d="M1 3h3v1h-3zM7 3h3v1h-3zM0 4h1v1h-1zM4 4h1v2h-1zM6 4h1v1h-1zM10 4h1v2h-1zM3 6h1v1h-1zM9 6h1v1h-1zM2 7h1v1h-1zM8 7h1v1h-1zM1 8h1v1h-1zM7 8h1v1h-1zM0 9h1v1h-1zM6 9h1v1h-1zM0 10h5v1h-5zM6 10h5v1h-5z"/></svg><span>22</span></div>
<div class="xt" style="left:526px"></div><div class="t xk" style="left:520px;top:428px;width:12px;font-size:10px;"><svg width="12" height="13" viewBox="0 0 12 13" shape-rendering="crispEdges"><path fill="#000" d="M1 3h3v1h-3zM7 3h3v1h-3zM0 4h1v1h-1zM4 4h1v2h-1zM6 4h1v1h-1zM10 4h1v2h-1zM3 6h1v1h-1zM8 6h2v1h-2zM2 7h1v1h-1zM10 7h1v3h-1zM1 8h1v1h-1zM0 9h1v1h-1zM6 9h1v1h-1zM0 10h5v1h-5zM7 10h3v1h-3z"/></svg><span>23</span></div>
</div>
<div class="t xl" style="left:78px;top:445px;width:399px;font-size:11.6667px;"><svg width="399" height="13" viewBox="0 0 399 13" shape-rendering="crispEdges"><path fill="#000" d="M79 2h2v2h-2zM107 2h3v1h-3zM130 2h2v3h-2zM147 2h2v3h-2zM191 2h2v2h-2zM204 2h3v1h-3zM259 2h2v3h-2zM297 2h2v1h-2zM393 2h2v1h-2zM0 3h6v1h-6zM28 3h6v1h-6zM57 3h2v2h-2zM106 3h2v3h-2zM109 3h2v1h-2zM183 3h2v2h-2zM205 3h2v7h-2zM296 3h2v2h-2zM302 3h4v1h-4zM309 3h4v1h-4zM316 3h4v1h-4zM323 3h4v1h-4zM330 3h4v1h-4zM337 3h4v1h-4zM344 3h4v1h-4zM351 3h4v1h-4zM365 3h4v1h-4zM372 3h4v1h-4zM379 3h4v1h-4zM386 3h4v1h-4zM394 3h2v2h-2zM2 4h2v7h-2zM32 4h2v1h-2zM301 4h2v2h-2zM305 4h2v3h-2zM308 4h2v3h-2zM312 4h2v2h-2zM315 4h2v2h-2zM319 4h2v3h-2zM322 4h2v2h-2zM326 4h2v1h-2zM329 4h2v3h-2zM333 4h2v2h-2zM336 4h2v2h-2zM340 4h2v3h-2zM343 4h2v2h-2zM347 4h2v3h-2zM350 4h2v1h-2zM354 4h2v2h-2zM364 4h2v3h-2zM368 4h2v2h-2zM371 4h2v2h-2zM375 4h2v1h-2zM378 4h2v3h-2zM382 4h2v2h-2zM385 4h2v3h-2zM389 4h2v2h-2zM8 5h4v1h-4zM14 5h5v1h-5zM31 5h2v2h-2zM43 5h4v1h-4zM49 5h2v5h-2zM53 5h2v5h-2zM56 5h5v1h-5zM64 5h3v1h-3zM68 5h1v1h-1zM71 5h4v1h-4zM78 5h3v1h-3zM84 5h5v1h-5zM92 5h3v1h-3zM96 5h1v1h-1zM113 5h4v1h-4zM120 5h4v1h-4zM127 5h5v1h-5zM134 5h4v1h-4zM147 5h5v1h-5zM154 5h2v4h-2zM158 5h2v4h-2zM169 5h4v1h-4zM175 5h5v1h-5zM182 5h5v1h-5zM190 5h3v1h-3zM197 5h4v1h-4zM211 5h4v1h-4zM218 5h4v1h-4zM231 5h5v1h-5zM239 5h4v1h-4zM245 5h5v1h-5zM259 5h5v1h-5zM267 5h4v1h-4zM273 5h2v5h-2zM277 5h2v5h-2zM280 5h5v1h-5zM295 5h2v3h-2zM395 5h2v3h-2zM7 6h2v4h-2zM11 6h2v4h-2zM14 6h2v3h-2zM18 6h2v3h-2zM42 6h2v4h-2zM46 6h2v4h-2zM57 6h2v4h-2zM63 6h2v2h-2zM67 6h2v2h-2zM70 6h2v4h-2zM74 6h2v4h-2zM79 6h2v4h-2zM84 6h2v5h-2zM88 6h2v5h-2zM91 6h2v2h-2zM95 6h2v2h-2zM105 6h4v1h-4zM112 6h2v1h-2zM116 6h2v1h-2zM119 6h2v1h-2zM123 6h2v1h-2zM126 6h2v4h-2zM130 6h2v4h-2zM133 6h2v1h-2zM137 6h2v1h-2zM147 6h2v4h-2zM151 6h2v4h-2zM172 6h2v1h-2zM175 6h2v5h-2zM179 6h2v1h-2zM183 6h2v4h-2zM191 6h2v4h-2zM196 6h2v4h-2zM200 6h2v1h-2zM210 6h2v1h-2zM214 6h2v1h-2zM217 6h2v1h-2zM221 6h2v1h-2zM231 6h2v3h-2zM235 6h2v3h-2zM238 6h2v1h-2zM242 6h2v1h-2zM245 6h2v5h-2zM249 6h2v1h-2zM259 6h2v5h-2zM263 6h2v5h-2zM266 6h2v4h-2zM270 6h2v4h-2zM280 6h2v5h-2zM284 6h2v1h-2zM311 6h3v1h-3zM322 6h5v1h-5zM332 6h3v1h-3zM351 6h4v1h-4zM367 6h3v1h-3zM371 6h5v1h-5zM381 6h3v1h-3zM388 6h3v1h-3zM30 7h2v2h-2zM106 7h2v4h-2zM112 7h6v1h-6zM119 7h6v1h-6zM134 7h2v1h-2zM169 7h5v1h-5zM210 7h6v1h-6zM218 7h2v1h-2zM238 7h6v1h-6zM303 7h3v1h-3zM308 7h3v1h-3zM312 7h2v3h-2zM317 7h3v1h-3zM322 7h2v3h-2zM326 7h2v3h-2zM329 7h3v1h-3zM333 7h2v3h-2zM338 7h3v1h-3zM345 7h3v1h-3zM354 7h2v3h-2zM364 7h3v1h-3zM368 7h2v3h-2zM371 7h2v3h-2zM375 7h2v3h-2zM378 7h3v1h-3zM382 7h2v3h-2zM385 7h3v1h-3zM389 7h2v3h-2zM64 8h4v1h-4zM92 8h4v1h-4zM112 8h2v2h-2zM119 8h2v2h-2zM136 8h2v1h-2zM168 8h2v2h-2zM172 8h2v2h-2zM210 8h2v2h-2zM220 8h2v1h-2zM238 8h2v2h-2zM296 8h2v2h-2zM302 8h2v1h-2zM308 8h2v2h-2zM316 8h2v1h-2zM329 8h2v2h-2zM337 8h2v1h-2zM344 8h2v1h-2zM364 8h2v2h-2zM378 8h2v2h-2zM385 8h2v2h-2zM394 8h2v2h-2zM14 9h5v1h-5zM29 9h2v2h-2zM60 9h2v1h-2zM63 9h2v1h-2zM91 9h2v1h-2zM116 9h2v1h-2zM123 9h2v1h-2zM133 9h2v1h-2zM137 9h2v1h-2zM155 9h5v1h-5zM186 9h2v1h-2zM200 9h2v1h-2zM214 9h2v1h-2zM217 9h2v1h-2zM221 9h2v1h-2zM231 9h5v1h-5zM242 9h2v1h-2zM301 9h2v1h-2zM315 9h2v1h-2zM336 9h2v1h-2zM343 9h2v1h-2zM350 9h2v1h-2zM8 10h4v1h-4zM14 10h2v3h-2zM43 10h4v1h-4zM50 10h5v1h-5zM58 10h3v1h-3zM64 10h4v1h-4zM71 10h4v1h-4zM77 10h6v1h-6zM92 10h4v1h-4zM113 10h4v1h-4zM120 10h4v1h-4zM127 10h5v1h-5zM134 10h4v1h-4zM147 10h5v1h-5zM158 10h2v2h-2zM169 10h5v1h-5zM184 10h3v1h-3zM189 10h6v1h-6zM197 10h4v1h-4zM203 10h6v1h-6zM211 10h4v1h-4zM218 10h4v1h-4zM231 10h2v3h-2zM239 10h4v1h-4zM267 10h4v1h-4zM274 10h5v1h-5zM297 10h2v1h-2zM301 10h6v1h-6zM309 10h4v1h-4zM315 10h6v1h-6zM323 10h4v1h-4zM330 10h4v1h-4zM336 10h6v1h-6zM343 10h6v1h-6zM351 10h4v1h-4zM365 10h4v1h-4zM372 10h4v1h-4zM379 10h4v1h-4zM386 10h4v1h-4zM393 10h2v1h-2zM63 11h2v1h-2zM67 11h2v1h-2zM91 11h2v1h-2zM95 11h2v1h-2zM64 12h4v1h-4zM92 12h4v1h-4zM155 12h4v1h-4z"/></svg><span>Top 7 outgoing feeds by articles per hour (20260223 0600)</span></div>
<div class="legend">
<div class="item" style="top:5px"><div class="ln" style="background:#c80000"></div><div class="pt" style="border-color:#c80000"></div><div class="t lg" style="left:27px;top:0px;width:90px;font-size:10px;"><svg width="90" height="13" viewBox="0 0 90 13" shape-rendering="crispEdges"><path fill="#c80000" d="M2 3h2v1h-2zM22 3h1v3h-1zM82 3h1v3h-1zM1 4h1v3h-1zM4 4h1v1h-1zM64 4h1v1h-1zM7 5h3v1h-3zM13 5h3v1h-3zM19 5h2v1h-2zM25 5h3v1h-3zM30 5h1v1h-1zM32 5h2v1h-2zM43 5h3v1h-3zM49 5h3v1h-3zM54 5h1v1h-1zM56 5h2v1h-2zM61 5h3v1h-3zM67 5h3v1h-3zM79 5h2v1h-2zM85 5h3v1h-3zM6 6h1v1h-1zM10 6h1v1h-1zM12 6h1v1h-1zM16 6h1v1h-1zM18 6h1v4h-1zM21 6h2v1h-2zM24 6h1v1h-1zM28 6h1v1h-1zM30 6h2v1h-2zM34 6h1v1h-1zM42 6h1v1h-1zM46 6h1v1h-1zM48 6h1v4h-1zM52 6h1v1h-1zM54 6h2v1h-2zM58 6h1v5h-1zM60 6h1v2h-1zM64 6h1v2h-1zM66 6h1v1h-1zM70 6h1v1h-1zM78 6h1v4h-1zM81 6h2v1h-2zM84 6h1v1h-1zM88 6h1v1h-1zM0 7h4v1h-4zM6 7h5v1h-5zM12 7h5v1h-5zM22 7h1v2h-1zM24 7h5v1h-5zM30 7h1v4h-1zM42 7h5v1h-5zM54 7h1v4h-1zM67 7h2v1h-2zM82 7h1v2h-1zM84 7h5v1h-5zM1 8h1v3h-1zM6 8h1v2h-1zM12 8h1v2h-1zM24 8h1v2h-1zM42 8h1v2h-1zM61 8h3v1h-3zM69 8h1v1h-1zM84 8h1v2h-1zM21 9h2v1h-2zM38 9h2v2h-2zM52 9h1v1h-1zM60 9h1v1h-1zM66 9h1v1h-1zM70 9h1v1h-1zM74 9h2v2h-2zM81 9h2v1h-2zM7 10h3v1h-3zM13 10h3v1h-3zM19 10h2v1h-2zM22 10h1v1h-1zM25 10h3v1h-3zM43 10h3v1h-3zM49 10h3v1h-3zM61 10h3v1h-3zM67 10h3v1h-3zM79 10h2v1h-2zM82 10h1v1h-1zM85 10h3v1h-3zM60 11h1v1h-1zM64 11h1v1h-1zM61 12h3v1h-3z"/></svg><span>feeder.ecngs.de</span></div>
</div>
<div class="item" style="top:20px"><div class="ln" style="background:#00af00"></div><div class="pt" style="border-color:#00af00"></div><div class="t lg" style="left:27px;top:0px;width:96px;font-size:10px;"><svg width="96" height="13" viewBox="0 0 96 13" shape-rendering="crispEdges"><path fill="#00af00" d="M6 3h1v3h-1zM31 3h2v1h-2zM36 3h1v3h-1zM60 3h1v3h-1zM67 3h1v2h-1zM91 3h1v2h-1zM32 4h1v6h-1zM0 5h1v1h-1zM2 5h2v1h-2zM8 5h2v1h-2zM12 5h1v1h-1zM14 5h2v1h-2zM25 5h3v1h-3zM38 5h2v1h-2zM42 5h1v1h-1zM44 5h2v1h-2zM49 5h3v1h-3zM55 5h3v1h-3zM62 5h2v1h-2zM66 5h4v1h-4zM78 5h1v1h-1zM80 5h2v1h-2zM85 5h3v1h-3zM90 5h4v1h-4zM0 6h2v1h-2zM4 6h1v5h-1zM6 6h2v1h-2zM10 6h1v4h-1zM12 6h2v1h-2zM16 6h1v1h-1zM24 6h1v1h-1zM28 6h1v1h-1zM36 6h2v1h-2zM40 6h1v4h-1zM42 6h2v1h-2zM46 6h1v1h-1zM52 6h1v1h-1zM54 6h1v4h-1zM58 6h1v1h-1zM60 6h2v1h-2zM64 6h1v5h-1zM67 6h1v4h-1zM78 6h2v1h-2zM82 6h1v5h-1zM84 6h1v1h-1zM88 6h1v1h-1zM91 6h1v4h-1zM0 7h1v4h-1zM6 7h1v2h-1zM12 7h1v4h-1zM24 7h5v1h-5zM36 7h1v2h-1zM42 7h1v4h-1zM49 7h4v1h-4zM60 7h1v4h-1zM78 7h1v4h-1zM84 7h5v1h-5zM24 8h1v2h-1zM48 8h1v2h-1zM52 8h1v1h-1zM84 8h1v2h-1zM6 9h2v1h-2zM20 9h2v2h-2zM36 9h2v1h-2zM51 9h2v1h-2zM58 9h1v1h-1zM70 9h1v1h-1zM74 9h2v2h-2zM94 9h1v1h-1zM6 10h1v1h-1zM8 10h2v1h-2zM25 10h3v1h-3zM31 10h3v1h-3zM36 10h1v1h-1zM38 10h2v1h-2zM49 10h2v1h-2zM52 10h1v1h-1zM55 10h3v1h-3zM68 10h2v1h-2zM85 10h3v1h-3zM92 10h2v1h-2z"/></svg><span>nbr.elbracht.net</span></div>
</div>
<div class="item" style="top:35px"><div class="ln" style="background:#0000c8"></div><div class="pt" style="border-color:#0000c8"></div><div class="t lg" style="left:27px;top:0px;width:90px;font-size:10px;"><svg width="90" height="13" viewBox="0 0 90 13" shape-rendering="crispEdges"><path fill="#0000c8" d="M25 3h2v1h-2zM32 3h1v1h-1zM82 3h1v3h-1zM26 4h1v6h-1zM31 4h2v1h-2zM64 4h1v1h-1zM1 5h3v1h-3zM6 5h1v1h-1zM8 5h2v1h-2zM13 5h3v1h-3zM19 5h3v1h-3zM30 5h1v1h-1zM32 5h1v5h-1zM43 5h3v1h-3zM49 5h3v1h-3zM54 5h1v1h-1zM56 5h2v1h-2zM61 5h3v1h-3zM67 5h3v1h-3zM79 5h2v1h-2zM85 5h3v1h-3zM0 6h1v1h-1zM4 6h1v1h-1zM6 6h2v1h-2zM10 6h1v4h-1zM12 6h1v4h-1zM16 6h1v4h-1zM18 6h1v4h-1zM22 6h1v4h-1zM42 6h1v1h-1zM46 6h1v1h-1zM48 6h1v4h-1zM52 6h1v1h-1zM54 6h2v1h-2zM58 6h1v5h-1zM60 6h1v2h-1zM64 6h1v2h-1zM66 6h1v1h-1zM70 6h1v1h-1zM78 6h1v4h-1zM81 6h2v1h-2zM84 6h1v1h-1zM88 6h1v1h-1zM1 7h2v1h-2zM6 7h1v2h-1zM42 7h5v1h-5zM54 7h1v4h-1zM67 7h2v1h-2zM82 7h1v2h-1zM84 7h5v1h-5zM3 8h1v1h-1zM42 8h1v2h-1zM61 8h3v1h-3zM69 8h1v1h-1zM84 8h1v2h-1zM0 9h1v1h-1zM4 9h1v1h-1zM6 9h2v1h-2zM38 9h2v2h-2zM52 9h1v1h-1zM60 9h1v1h-1zM66 9h1v1h-1zM70 9h1v1h-1zM74 9h2v2h-2zM81 9h2v1h-2zM1 10h3v1h-3zM6 10h1v3h-1zM8 10h2v1h-2zM13 10h3v1h-3zM19 10h3v1h-3zM25 10h3v1h-3zM30 10h5v1h-5zM43 10h3v1h-3zM49 10h3v1h-3zM61 10h3v1h-3zM67 10h3v1h-3zM79 10h2v1h-2zM82 10h1v1h-1zM85 10h3v1h-3zM60 11h1v1h-1zM64 11h1v1h-1zM61 12h3v1h-3z"/></svg><span>spool1.ecngs.de</span></div>
</div>
<div class="item" style="top:50px"><div class="ln" style="background:#c800c8"></div><div class="pt" style="border-color:#c800c8"></div><div class="t lg" style="left:27px;top:0px;width:144px;font-size:10px;"><svg width="144" height="13" viewBox="0 0 144 13" shape-rendering="crispEdges"><path fill="#c800c8" d="M38 3h1v1h-1zM56 3h2v1h-2zM76 3h1v3h-1zM111 3h1v1h-1zM139 3h1v2h-1zM22 4h1v1h-1zM55 4h1v3h-1zM58 4h1v1h-1zM1 5h3v1h-3zM7 5h3v1h-3zM12 5h1v1h-1zM14 5h2v1h-2zM19 5h3v1h-3zM25 5h3v1h-3zM37 5h2v1h-2zM42 5h1v1h-1zM44 5h2v1h-2zM61 5h3v1h-3zM67 5h3v1h-3zM73 5h2v1h-2zM79 5h3v1h-3zM84 5h1v1h-1zM86 5h2v1h-2zM97 5h3v1h-3zM102 5h1v1h-1zM104 5h2v1h-2zM110 5h2v1h-2zM115 5h3v1h-3zM126 5h1v1h-1zM128 5h2v1h-2zM133 5h3v1h-3zM138 5h4v1h-4zM0 6h1v1h-1zM4 6h1v1h-1zM6 6h1v4h-1zM10 6h1v1h-1zM12 6h2v1h-2zM16 6h1v5h-1zM18 6h1v2h-1zM22 6h1v2h-1zM24 6h1v1h-1zM28 6h1v1h-1zM38 6h1v4h-1zM42 6h2v1h-2zM46 6h1v5h-1zM60 6h1v1h-1zM64 6h1v1h-1zM66 6h1v1h-1zM70 6h1v1h-1zM72 6h1v4h-1zM75 6h2v1h-2zM78 6h1v1h-1zM82 6h1v1h-1zM84 6h2v1h-2zM88 6h1v1h-1zM96 6h1v1h-1zM100 6h1v1h-1zM102 6h2v1h-2zM106 6h1v1h-1zM111 6h1v6h-1zM114 6h1v1h-1zM118 6h1v1h-1zM126 6h2v1h-2zM130 6h1v5h-1zM132 6h1v1h-1zM136 6h1v1h-1zM139 6h1v4h-1zM0 7h5v1h-5zM12 7h1v4h-1zM25 7h2v1h-2zM30 7h5v1h-5zM42 7h1v4h-1zM54 7h4v1h-4zM60 7h5v1h-5zM66 7h5v1h-5zM76 7h1v2h-1zM78 7h5v1h-5zM84 7h1v4h-1zM96 7h5v1h-5zM102 7h1v4h-1zM114 7h5v1h-5zM126 7h1v4h-1zM132 7h5v1h-5zM0 8h1v2h-1zM19 8h3v1h-3zM27 8h1v1h-1zM55 8h1v3h-1zM60 8h1v2h-1zM66 8h1v2h-1zM78 8h1v2h-1zM96 8h1v2h-1zM114 8h1v2h-1zM132 8h1v2h-1zM10 9h1v1h-1zM18 9h1v1h-1zM24 9h1v1h-1zM28 9h1v1h-1zM50 9h2v2h-2zM75 9h2v1h-2zM92 9h2v2h-2zM122 9h2v2h-2zM142 9h1v1h-1zM1 10h3v1h-3zM7 10h3v1h-3zM19 10h3v1h-3zM25 10h3v1h-3zM37 10h3v1h-3zM61 10h3v1h-3zM67 10h3v1h-3zM73 10h2v1h-2zM76 10h1v1h-1zM79 10h3v1h-3zM97 10h3v1h-3zM108 10h1v2h-1zM115 10h3v1h-3zM133 10h3v1h-3zM140 10h2v1h-2zM18 11h1v1h-1zM22 11h1v1h-1zM19 12h3v1h-3zM109 12h2v1h-2z"/></svg><span>ecngs-in.feeder.erje.net</span></div>
</div>
<div class="item" style="top:65px"><div class="ln" style="background:#fa7d7d"></div><div class="pt" style="border-color:#fa7d7d"></div><div class="t lg" style="left:27px;top:0px;width:192px;font-size:10px;"><svg width="192" height="13" viewBox="0 0 192 13" shape-rendering="crispEdges"><path fill="#fa7d7d" d="M70 3h1v3h-1zM104 3h2v1h-2zM124 3h1v3h-1zM166 3h1v3h-1zM187 3h1v2h-1zM22 4h1v1h-1zM103 4h1v3h-1zM106 4h1v1h-1zM1 5h3v1h-3zM7 5h3v1h-3zM12 5h1v1h-1zM14 5h2v1h-2zM19 5h3v1h-3zM25 5h3v1h-3zM36 5h1v1h-1zM38 5h2v1h-2zM42 5h1v1h-1zM44 5h2v1h-2zM49 5h3v1h-3zM54 5h1v1h-1zM58 5h1v1h-1zM61 5h3v1h-3zM67 5h2v1h-2zM78 5h1v1h-1zM80 5h2v1h-2zM85 5h3v1h-3zM90 5h1v5h-1zM94 5h1v5h-1zM97 5h3v1h-3zM109 5h3v1h-3zM115 5h3v1h-3zM121 5h2v1h-2zM132 5h1v1h-1zM134 5h2v1h-2zM138 5h1v1h-1zM140 5h2v1h-2zM145 5h3v1h-3zM150 5h1v1h-1zM154 5h1v1h-1zM157 5h3v1h-3zM163 5h2v1h-2zM174 5h1v1h-1zM176 5h2v1h-2zM181 5h3v1h-3zM186 5h4v1h-4zM0 6h1v1h-1zM4 6h1v1h-1zM6 6h1v4h-1zM10 6h1v1h-1zM12 6h2v1h-2zM16 6h1v5h-1zM18 6h1v2h-1zM22 6h1v2h-1zM24 6h1v1h-1zM28 6h1v1h-1zM36 6h2v1h-2zM40 6h1v4h-1zM42 6h2v1h-2zM46 6h1v1h-1zM48 6h1v4h-1zM52 6h1v4h-1zM55 6h1v1h-1zM57 6h1v1h-1zM64 6h1v1h-1zM66 6h1v4h-1zM69 6h2v1h-2zM78 6h2v1h-2zM82 6h1v5h-1zM84 6h1v1h-1zM88 6h1v1h-1zM96 6h1v1h-1zM100 6h1v1h-1zM108 6h1v1h-1zM112 6h1v1h-1zM114 6h1v1h-1zM118 6h1v1h-1zM120 6h1v4h-1zM123 6h2v1h-2zM132 6h2v1h-2zM136 6h1v4h-1zM138 6h2v1h-2zM142 6h1v1h-1zM144 6h1v4h-1zM148 6h1v4h-1zM151 6h1v1h-1zM153 6h1v1h-1zM160 6h1v1h-1zM162 6h1v4h-1zM165 6h2v1h-2zM174 6h2v1h-2zM178 6h1v5h-1zM180 6h1v1h-1zM184 6h1v1h-1zM187 6h1v4h-1zM0 7h5v1h-5zM12 7h1v4h-1zM25 7h2v1h-2zM30 7h5v1h-5zM36 7h1v2h-1zM42 7h1v4h-1zM56 7h1v2h-1zM61 7h4v1h-4zM70 7h1v2h-1zM78 7h1v4h-1zM84 7h5v1h-5zM92 7h1v3h-1zM97 7h2v1h-2zM102 7h4v1h-4zM108 7h5v1h-5zM114 7h5v1h-5zM124 7h1v2h-1zM132 7h1v2h-1zM138 7h1v4h-1zM152 7h1v2h-1zM157 7h4v1h-4zM166 7h1v2h-1zM174 7h1v4h-1zM180 7h5v1h-5zM0 8h1v2h-1zM19 8h3v1h-3zM27 8h1v1h-1zM60 8h1v2h-1zM64 8h1v1h-1zM84 8h1v2h-1zM99 8h1v1h-1zM103 8h1v3h-1zM108 8h1v2h-1zM114 8h1v2h-1zM156 8h1v2h-1zM160 8h1v1h-1zM180 8h1v2h-1zM10 9h1v1h-1zM18 9h1v1h-1zM24 9h1v1h-1zM28 9h1v1h-1zM36 9h2v1h-2zM55 9h1v1h-1zM57 9h1v1h-1zM63 9h2v1h-2zM69 9h2v1h-2zM74 9h2v2h-2zM96 9h1v1h-1zM100 9h1v1h-1zM123 9h2v1h-2zM128 9h2v2h-2zM132 9h2v1h-2zM151 9h1v1h-1zM153 9h1v1h-1zM159 9h2v1h-2zM165 9h2v1h-2zM170 9h2v2h-2zM190 9h1v1h-1zM1 10h3v1h-3zM7 10h3v1h-3zM19 10h3v1h-3zM25 10h3v1h-3zM36 10h1v3h-1zM38 10h2v1h-2zM49 10h3v1h-3zM54 10h1v1h-1zM58 10h1v1h-1zM61 10h2v1h-2zM64 10h1v1h-1zM67 10h2v1h-2zM70 10h1v1h-1zM85 10h3v1h-3zM91 10h1v1h-1zM93 10h1v1h-1zM97 10h3v1h-3zM109 10h3v1h-3zM115 10h3v1h-3zM121 10h2v1h-2zM124 10h1v1h-1zM132 10h1v3h-1zM134 10h2v1h-2zM145 10h3v1h-3zM150 10h1v1h-1zM154 10h1v1h-1zM157 10h2v1h-2zM160 10h1v1h-1zM163 10h2v1h-2zM166 10h1v1h-1zM181 10h3v1h-3zM188 10h2v1h-2zM18 11h1v1h-1zM22 11h1v1h-1zM19 12h3v1h-3z"/></svg><span>ecngs-proxad.newsfeed.proxad.net</span></div>
</div>
<div class="item" style="top:80px"><div class="ln" style="background:#fa7d00"></div><div class="pt" style="border-color:#fa7d00"></div><div class="t lg" style="left:27px;top:0px;width:150px;font-size:10px;"><svg width="150" height="13" viewBox="0 0 150 13" shape-rendering="crispEdges"><path fill="#fa7d00" d="M38 3h2v1h-2zM58 3h1v3h-1zM115 3h1v2h-1zM128 3h2v1h-2zM22 4h1v1h-1zM37 4h1v3h-1zM40 4h1v1h-1zM127 4h1v3h-1zM130 4h1v1h-1zM1 5h3v1h-3zM7 5h3v1h-3zM12 5h1v1h-1zM14 5h2v1h-2zM19 5h3v1h-3zM25 5h3v1h-3zM43 5h3v1h-3zM49 5h3v1h-3zM55 5h2v1h-2zM66 5h2v1h-2zM69 5h1v1h-1zM73 5h3v1h-3zM84 5h1v5h-1zM88 5h1v4h-1zM91 5h3v1h-3zM97 5h3v1h-3zM102 5h1v1h-1zM104 5h2v1h-2zM109 5h3v1h-3zM114 5h4v1h-4zM133 5h3v1h-3zM138 5h1v1h-1zM140 5h2v1h-2zM144 5h2v1h-2zM147 5h1v1h-1zM0 6h1v1h-1zM4 6h1v1h-1zM6 6h1v4h-1zM10 6h1v1h-1zM12 6h2v1h-2zM16 6h1v5h-1zM18 6h1v2h-1zM22 6h1v2h-1zM24 6h1v1h-1zM28 6h1v1h-1zM42 6h1v1h-1zM46 6h1v1h-1zM48 6h1v1h-1zM52 6h1v1h-1zM54 6h1v4h-1zM57 6h2v1h-2zM66 6h1v5h-1zM68 6h1v4h-1zM70 6h1v5h-1zM72 6h1v1h-1zM76 6h1v1h-1zM90 6h1v1h-1zM94 6h1v1h-1zM96 6h1v1h-1zM100 6h1v1h-1zM102 6h2v1h-2zM106 6h1v5h-1zM108 6h1v1h-1zM112 6h1v1h-1zM115 6h1v4h-1zM136 6h1v1h-1zM138 6h2v1h-2zM142 6h1v1h-1zM144 6h1v5h-1zM146 6h1v4h-1zM148 6h1v5h-1zM0 7h5v1h-5zM12 7h1v4h-1zM25 7h2v1h-2zM30 7h5v1h-5zM36 7h4v1h-4zM42 7h5v1h-5zM48 7h5v1h-5zM58 7h1v2h-1zM60 7h5v1h-5zM72 7h5v1h-5zM91 7h2v1h-2zM96 7h5v1h-5zM102 7h1v4h-1zM108 7h5v1h-5zM126 7h4v1h-4zM133 7h4v1h-4zM138 7h1v4h-1zM0 8h1v2h-1zM19 8h3v1h-3zM27 8h1v1h-1zM37 8h1v3h-1zM42 8h1v2h-1zM48 8h1v2h-1zM72 8h1v2h-1zM93 8h1v1h-1zM96 8h1v2h-1zM108 8h1v2h-1zM127 8h1v3h-1zM132 8h1v2h-1zM136 8h1v1h-1zM10 9h1v1h-1zM18 9h1v1h-1zM24 9h1v1h-1zM28 9h1v1h-1zM57 9h2v1h-2zM80 9h2v2h-2zM87 9h2v1h-2zM90 9h1v1h-1zM94 9h1v1h-1zM118 9h1v1h-1zM122 9h2v2h-2zM135 9h2v1h-2zM1 10h3v1h-3zM7 10h3v1h-3zM19 10h3v1h-3zM25 10h3v1h-3zM43 10h3v1h-3zM49 10h3v1h-3zM55 10h2v1h-2zM58 10h1v1h-1zM73 10h3v1h-3zM85 10h2v1h-2zM88 10h1v1h-1zM91 10h3v1h-3zM97 10h3v1h-3zM109 10h3v1h-3zM116 10h2v1h-2zM133 10h2v1h-2zM136 10h1v1h-1zM18 11h1v1h-1zM22 11h1v1h-1zM19 12h3v1h-3z"/></svg><span>ecngs-feed-me.usenet.farm</span></div>
</div>
<div class="item" style="top:95px"><div class="ln" style="background:#c87d7d"></div><div class="pt" style="border-color:#c87d7d"></div><div class="t lg" style="left:27px;top:0px;width:144px;font-size:10px;"><svg width="144" height="13" viewBox="0 0 144 13" shape-rendering="crispEdges"><path fill="#c87d7d" d="M2 3h2v1h-2zM22 3h1v3h-1zM42 3h1v3h-1zM50 3h1v1h-1zM54 3h1v3h-1zM79 3h1v2h-1zM91 3h2v1h-2zM139 3h1v2h-1zM1 4h1v3h-1zM4 4h1v1h-1zM92 4h1v6h-1zM7 5h3v1h-3zM13 5h3v1h-3zM19 5h2v1h-2zM25 5h3v1h-3zM36 5h1v1h-1zM38 5h2v1h-2zM44 5h2v1h-2zM49 5h2v1h-2zM56 5h2v1h-2zM61 5h3v1h-3zM67 5h3v1h-3zM78 5h4v1h-4zM85 5h3v1h-3zM97 5h3v1h-3zM103 5h3v1h-3zM109 5h3v1h-3zM114 5h2v1h-2zM117 5h1v1h-1zM126 5h1v1h-1zM128 5h2v1h-2zM133 5h3v1h-3zM138 5h4v1h-4zM6 6h1v1h-1zM10 6h1v1h-1zM12 6h1v1h-1zM16 6h1v1h-1zM18 6h1v4h-1zM21 6h2v1h-2zM24 6h1v1h-1zM28 6h1v1h-1zM36 6h2v1h-2zM40 6h1v4h-1zM42 6h2v1h-2zM46 6h1v5h-1zM50 6h1v4h-1zM54 6h2v1h-2zM58 6h1v4h-1zM60 6h1v1h-1zM64 6h1v1h-1zM66 6h1v1h-1zM70 6h1v1h-1zM79 6h1v4h-1zM84 6h1v1h-1zM88 6h1v1h-1zM96 6h1v1h-1zM100 6h1v1h-1zM102 6h1v4h-1zM106 6h1v1h-1zM108 6h1v4h-1zM112 6h1v4h-1zM114 6h1v5h-1zM116 6h1v4h-1zM118 6h1v5h-1zM126 6h2v1h-2zM130 6h1v5h-1zM132 6h1v1h-1zM136 6h1v1h-1zM139 6h1v4h-1zM0 7h4v1h-4zM6 7h5v1h-5zM12 7h5v1h-5zM22 7h1v2h-1zM25 7h2v1h-2zM36 7h1v2h-1zM42 7h1v4h-1zM54 7h1v2h-1zM60 7h5v1h-5zM66 7h5v1h-5zM72 7h5v1h-5zM84 7h5v1h-5zM96 7h5v1h-5zM126 7h1v4h-1zM132 7h5v1h-5zM1 8h1v3h-1zM6 8h1v2h-1zM12 8h1v2h-1zM27 8h1v1h-1zM60 8h1v2h-1zM66 8h1v2h-1zM84 8h1v2h-1zM96 8h1v2h-1zM132 8h1v2h-1zM21 9h2v1h-2zM24 9h1v1h-1zM28 9h1v1h-1zM32 9h2v2h-2zM36 9h2v1h-2zM54 9h2v1h-2zM82 9h1v1h-1zM106 9h1v1h-1zM122 9h2v2h-2zM142 9h1v1h-1zM7 10h3v1h-3zM13 10h3v1h-3zM19 10h2v1h-2zM22 10h1v1h-1zM25 10h3v1h-3zM36 10h1v3h-1zM38 10h2v1h-2zM49 10h3v1h-3zM54 10h1v1h-1zM56 10h2v1h-2zM61 10h3v1h-3zM67 10h3v1h-3zM80 10h2v1h-2zM85 10h3v1h-3zM91 10h3v1h-3zM97 10h3v1h-3zM103 10h3v1h-3zM109 10h3v1h-3zM133 10h3v1h-3zM140 10h2v1h-2z"/></svg><span>feeds.phibee-telecom.net</span></div>
</div>
<div class="item" style="top:110px"><div class="ln" style="background:#7d7d00"></div><div class="pt" style="border-color:#7d7d00"></div><div class="t lg" style="left:27px;top:0px;width:102px;font-size:10px;"><svg width="102" height="13" viewBox="0 0 102 13" shape-rendering="crispEdges"><path fill="#7d7d00" d="M0 3h5v1h-5zM7 3h3v1h-3zM12 3h5v1h-5zM20 3h1v1h-1zM24 3h1v7h-1zM39 3h1v1h-1zM49 3h2v1h-2zM55 3h2v1h-2zM68 3h2v1h-2zM88 3h1v3h-1zM97 3h1v1h-1zM2 4h1v7h-1zM6 4h1v6h-1zM10 4h1v6h-1zM14 4h1v7h-1zM19 4h1v1h-1zM21 4h1v1h-1zM38 4h1v1h-1zM50 4h1v6h-1zM56 4h1v6h-1zM67 4h1v3h-1zM70 4h1v1h-1zM98 4h1v1h-1zM18 5h1v2h-1zM22 5h1v2h-1zM37 5h1v4h-1zM43 5h3v1h-3zM73 5h3v1h-3zM79 5h3v1h-3zM85 5h2v1h-2zM91 5h3v1h-3zM99 5h1v4h-1zM46 6h1v1h-1zM72 6h1v1h-1zM76 6h1v1h-1zM78 6h1v1h-1zM82 6h1v1h-1zM84 6h1v4h-1zM87 6h2v1h-2zM90 6h1v1h-1zM94 6h1v1h-1zM18 7h5v1h-5zM43 7h4v1h-4zM66 7h4v1h-4zM72 7h5v1h-5zM78 7h5v1h-5zM88 7h1v2h-1zM91 7h2v1h-2zM18 8h1v3h-1zM22 8h1v3h-1zM42 8h1v2h-1zM46 8h1v1h-1zM67 8h1v3h-1zM72 8h1v2h-1zM78 8h1v2h-1zM93 8h1v1h-1zM38 9h1v1h-1zM45 9h2v1h-2zM87 9h2v1h-2zM90 9h1v1h-1zM94 9h1v1h-1zM98 9h1v1h-1zM7 10h3v1h-3zM24 10h5v1h-5zM39 10h1v1h-1zM43 10h2v1h-2zM46 10h1v1h-1zM49 10h3v1h-3zM55 10h3v1h-3zM73 10h3v1h-3zM79 10h3v1h-3zM85 10h2v1h-2zM88 10h1v1h-1zM91 10h3v1h-3zM97 10h1v1h-1z"/></svg><span>TOTAL (all feeds)</span></div>
</div>
</div>
</div>
</body>
</html>
